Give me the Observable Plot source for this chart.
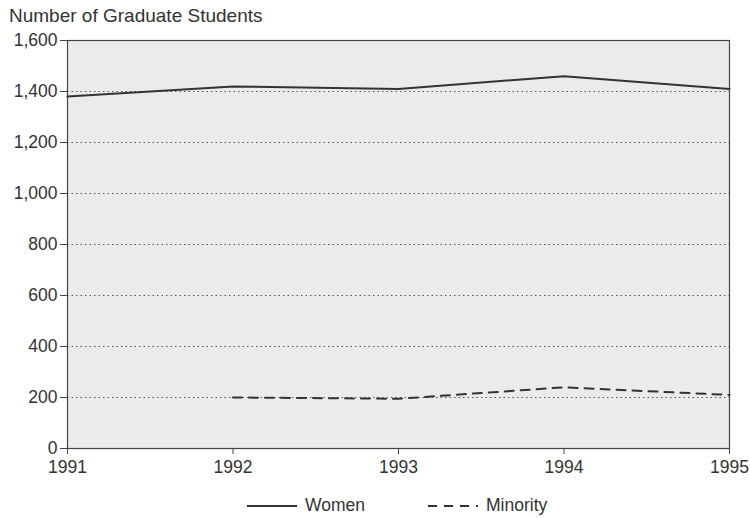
<!DOCTYPE html>
<html>
<head>
<meta charset="utf-8">
<script src="https://cdn.jsdelivr.net/npm/d3@7"></script>
<script src="https://cdn.jsdelivr.net/npm/@observablehq/plot@0.6"></script>
<style>
  body { margin: 0; background: #fff; font-family: "Liberation Sans", Arial, sans-serif; color: #333; }
  #wrap { position: relative; width: 750px; height: 518px; }
  #title { position: absolute; left: 9px; top: 5px; font-size: 19px; line-height: 22px; }
  #chart { position: absolute; left: 0; top: 30px; }
  #legend { position: absolute; top: 495px; left: 0; width: 750px; font-size: 17.5px; }
  .item { position: absolute; display: flex; align-items: center; }
  .item svg { margin-right: 8px; }
</style>
</head>
<body>
<div id="wrap">
  <div id="title">Number of Graduate Students</div>
  <div id="chart"></div>
  <div id="legend"></div>
</div>
<script>
const years = [1991, 1992, 1993, 1994, 1995];
const women = [1380, 1420, 1410, 1460, 1410];
const minorityYears = [1992, 1993, 1994, 1995];
const minority = [200, 195, 240, 210];
const yTicks = [0, 200, 400, 600, 800, 1000, 1200, 1400, 1600];

const womenData = years.map((y, i) => ({year: y, value: women[i]}));
const minorityData = minorityYears.map((y, i) => ({year: y, value: minority[i]}));

const plot = Plot.plot({
  width: 750,
  height: 455,
  marginLeft: 67,
  marginRight: 21,
  marginTop: 10,
  marginBottom: 37,
  style: {fontFamily: '"Liberation Sans", Arial, sans-serif', fontSize: "17.5px", color: "#333", background: "transparent", overflow: "visible"},
  x: {domain: [1991, 1995], label: null},
  y: {domain: [0, 1600], label: null},
  marks: [
    Plot.frame({fill: "#ebebeb"}),
    Plot.ruleY(yTicks.filter(d => d > 0 && d < 1600), {stroke: "#555", strokeDasharray: "1.5,3", strokeWidth: 1}),
    Plot.frame({stroke: "#444", strokeWidth: 1.2}),
    Plot.axisX({ticks: years, tickFormat: d => String(d), tickSize: 6, tickPadding: 6, fontSize: 17.5, stroke: "#444", label: null}),
    Plot.axisY({ticks: yTicks, tickFormat: d3.format(","), tickSize: 7, tickPadding: 3, fontSize: 17.5, stroke: "#444", label: null}),
    Plot.line(womenData, {x: "year", y: "value", stroke: "#333", strokeWidth: 2}),
    Plot.line(minorityData, {x: "year", y: "value", stroke: "#333", strokeWidth: 2, strokeDasharray: "9,7"})
  ]
});
document.getElementById("chart").appendChild(plot);

const legendItems = [
  {label: "Women", dash: null, left: 247},
  {label: "Minority", dash: "9,7", left: 428}
];
const legend = document.getElementById("legend");
legendItems.forEach(it => {
  const div = document.createElement("div");
  div.className = "item";
  div.style.left = it.left + "px";
  div.innerHTML = `<svg width="50" height="20"><line x1="0" x2="50" y1="10" y2="10" stroke="#333" stroke-width="2" ${it.dash ? `stroke-dasharray="${it.dash}"` : ""}/></svg><span>${it.label}</span>`;
  legend.appendChild(div);
});
</script>
</body>
</html>
